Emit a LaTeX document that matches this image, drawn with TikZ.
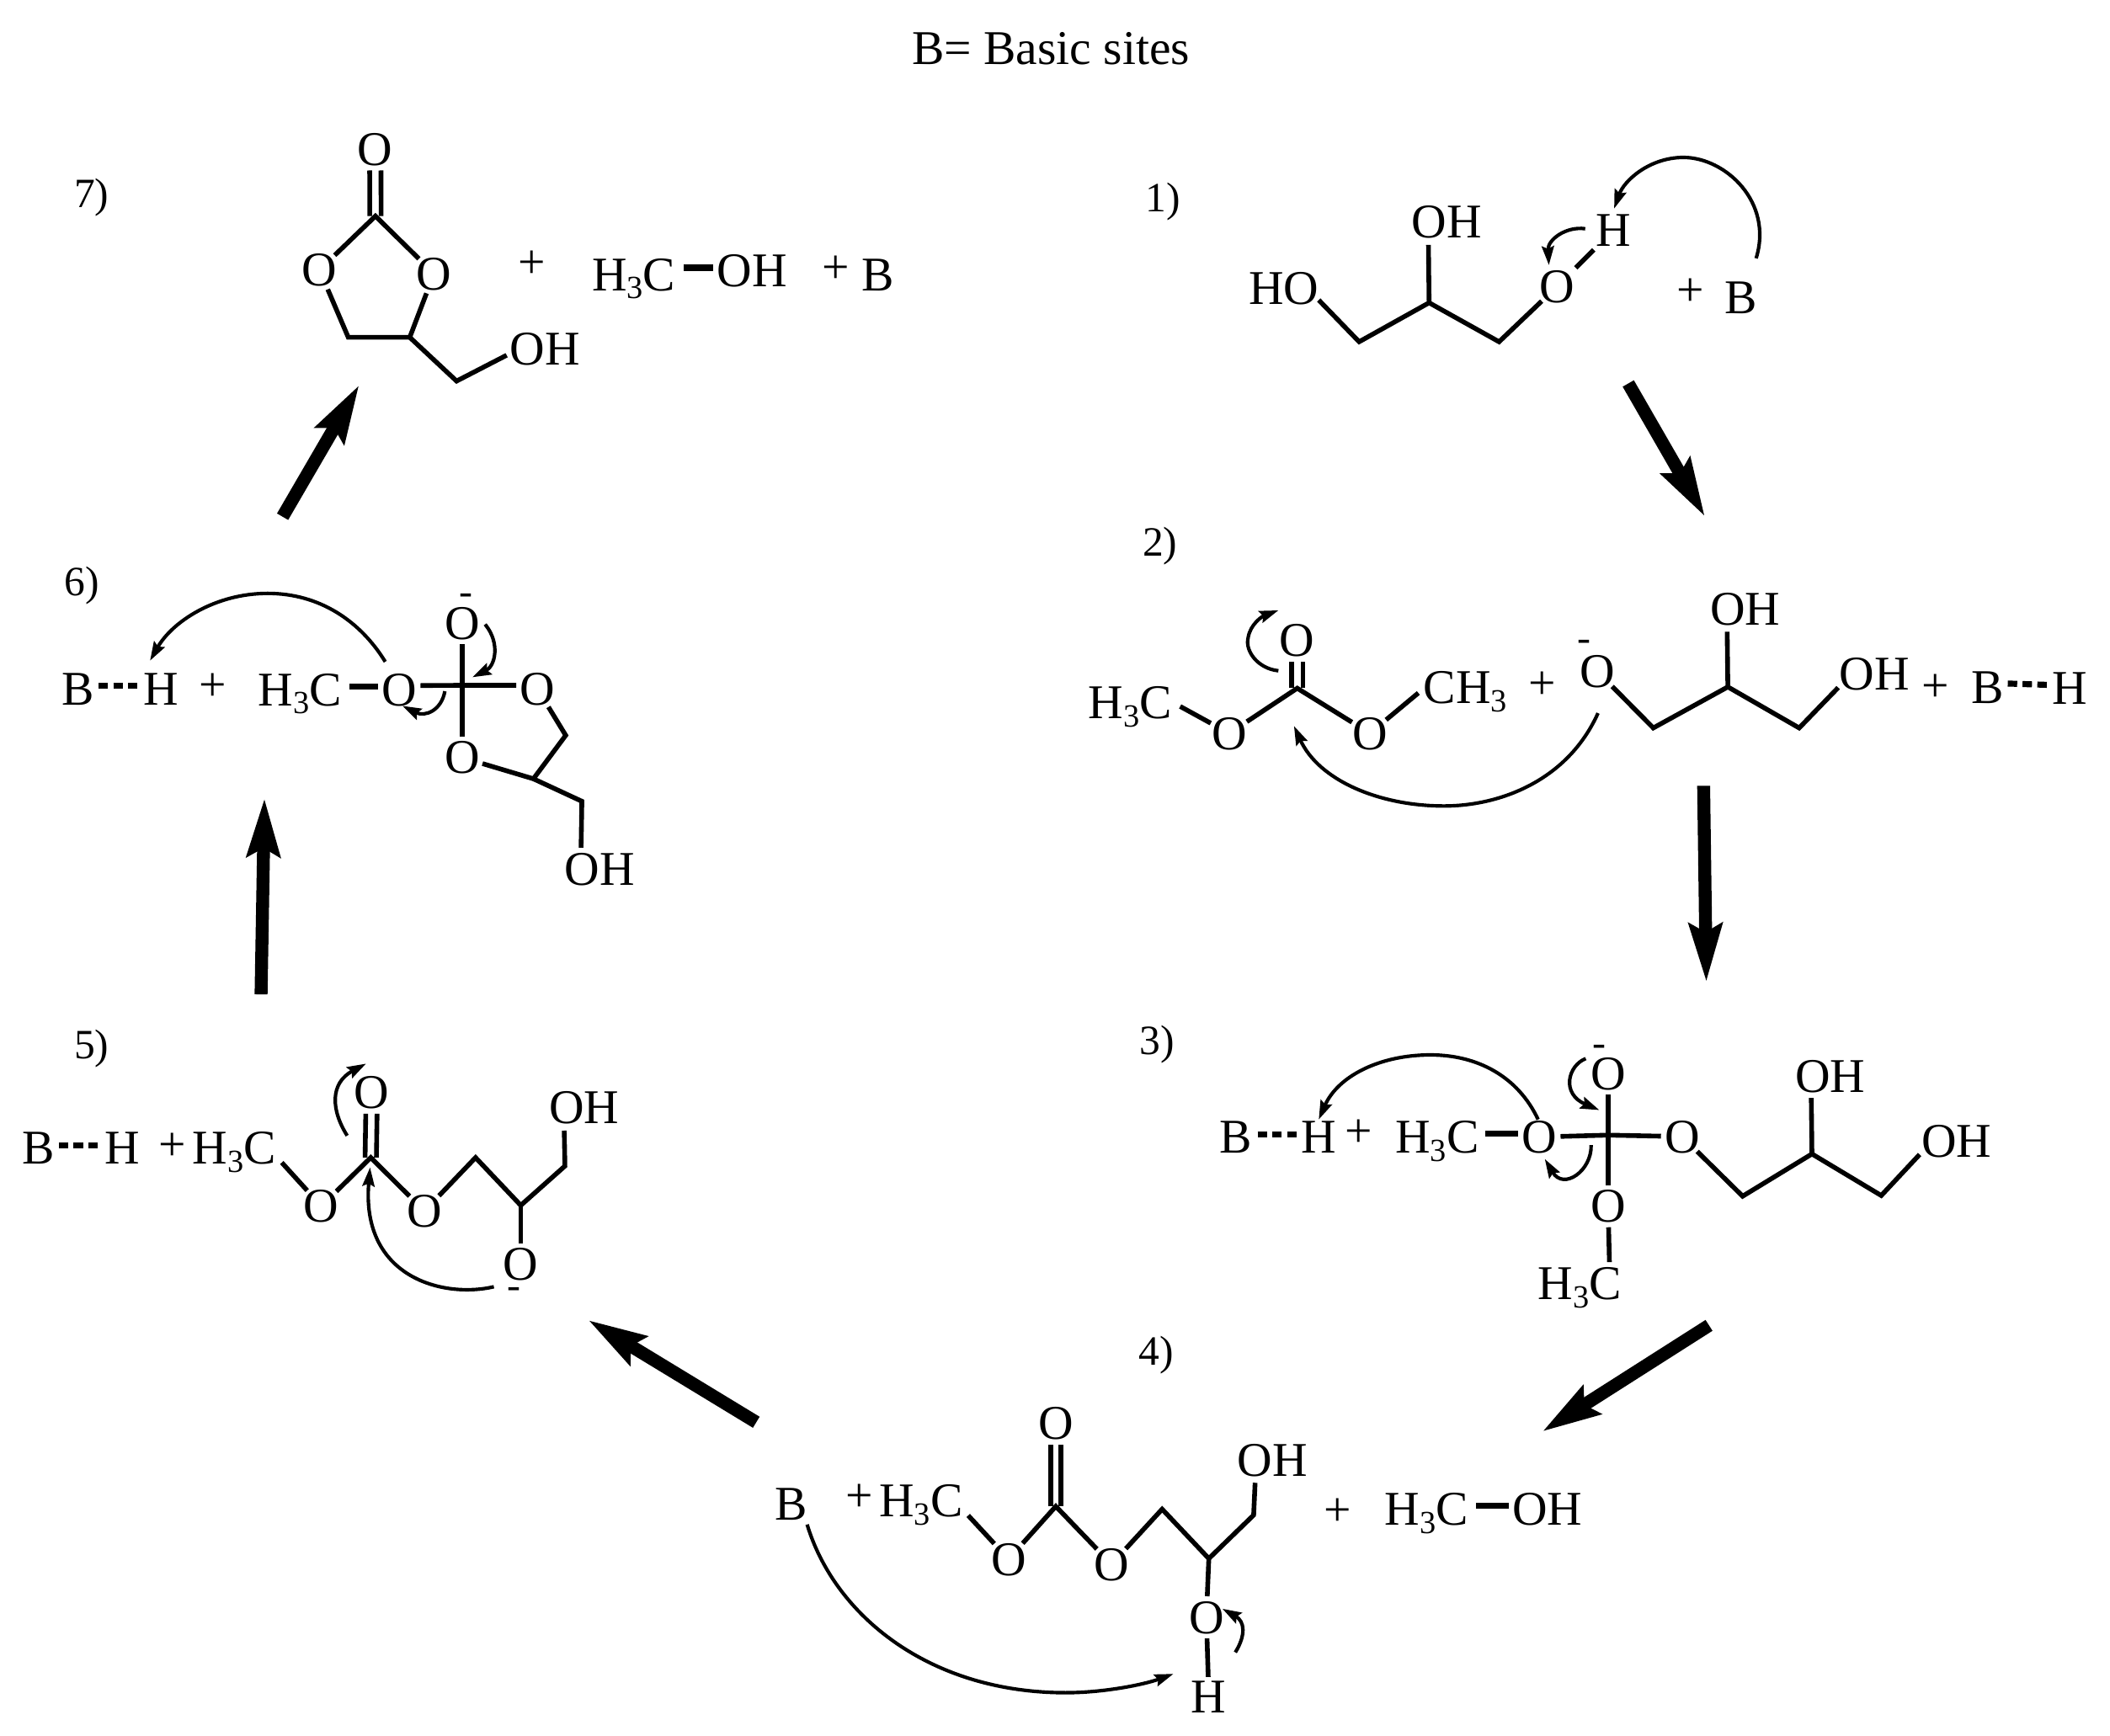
\documentclass[tikz,border=0pt]{standalone}
\usepackage{fontspec}
\setmainfont{Liberation Serif}
\usetikzlibrary{arrows.meta}
\newcommand{\atomsize}{\fontsize{36}{36}\selectfont}
\newcommand{\stepsize}{\fontsize{31}{31}\selectfont}
\newcommand{\chgsize}{\fontsize{30}{30}\selectfont}
\newcommand{\Hthree}{H\raisebox{-6pt}{\fontsize{24}{24}\selectfont 3}}
\tikzset{
 lab/.style={inner sep=0pt,outer sep=0pt,text height=24pt,text depth=0pt,font=\atomsize},
 atom/.style={lab,circle,outer sep=-2pt},
 pls/.style={inner sep=0pt,outer sep=0pt,text height=23pt,text depth=0pt,font=\atomsize},
 steplab/.style={inner sep=0pt,outer sep=0pt,text height=19pt,text depth=0pt,font=\stepsize},
 chg/.style={inner sep=0pt,outer sep=0pt,font=\chgsize,yshift=-3pt},
 bond/.style={line width=3.5pt,line join=miter,black},
 shortbond/.style={line width=4.5pt,black},
 hbond/.style={line width=4.5pt,dash pattern=on 7pt off 4pt,black},
 thick arrow/.style={line width=9.6pt,black,-{Stealth[length=43pt,width=24pt,inset=6pt]}},
 curve/.style={line width=2.6pt,black,-{Stealth[length=14pt,width=9pt,inset=2pt]}},
}
\begin{document}
\begin{tikzpicture}[x=1pt,y=-1pt]
\useasboundingbox (0,0) rectangle (1568,1290);
\fill[white] (0,0) rectangle (1568,1290);
% title and step labels
\node[lab] (title) at (781,36) {B= Basic sites};
\node[steplab] (s1) at (864,148) {1)};
\node[steplab] (s2) at (862,404) {2)};
\node[steplab] (s3) at (860,774) {3)};
\node[steplab] (s4) at (859,1005) {4)};
\node[steplab] (s5) at (68,777) {5)};
\node[steplab] (s6) at (61,433) {6)};
\node[steplab] (s7) at (68,145) {7)};

% ---------- step 1
\node[lab] (ho1) at (954,214) {HO};
\node[lab] (oh1) at (1075,165) {OH};
\node[atom] (o1) at (1157,213) {O};
\node[lab,circle] (h1) at (1199,171) {H};
\node[pls] (p1) at (1256,216) {+};
\node[lab] (b1) at (1294,221) {B};
\coordinate (v1a) at (1010,254);
\coordinate (v1b) at (1062,225);
\coordinate (v1c) at (1114,254);
\draw[bond] ([shift={(0,9)}]ho1.east) -- (v1a) -- (v1b) -- (v1c) -- (o1);
\draw[bond] (v1b) -- ([shift={(12.5,5)}]oh1.south west);
\draw[bond,shorten <=4pt,shorten >=3pt] (o1) -- (h1);
\coordinate (c1a) at (1305,192);
\coordinate (c1b) at (1199.5,155);
\draw[curve] (c1a) .. controls (1318,150) and (1282,117) .. (1251,117) .. controls (1226,117) and (1207,134) .. (c1b);
\coordinate (c1c) at (1178,170);
\coordinate (c1d) at (1151,197);
\draw[curve] (c1c) .. controls (1164,168) and (1150,178) .. (c1d);

% ---------- step 2
\node[lab] (h3c2) at (840,522) {\Hthree C};
\node[atom] (o2a) at (913.5,545) {O};
\node[atom] (o2t) at (964,476) {O};
\node[atom] (o2b) at (1018,545) {O};
\node[lab] (ch32) at (1089,511) {CH\raisebox{-6pt}{\fontsize{24}{24}\selectfont 3}};
\node[pls] (p2a) at (1146,508) {+};
\node[atom] (o2m) at (1187,499) {O};
\node[chg] (m2) at (1177,477) {-};
\node[lab] (oh2t) at (1297,452.5) {OH};
\node[lab] (oh2r) at (1393,501) {OH};
\node[pls] (p2b) at (1438,510) {+};
\node[lab] (b2) at (1477,510.5) {B};
\node[lab] (h2) at (1538,511.5) {H};
\coordinate (v2c) at (964,511.5);
\coordinate (v2a) at (1228.6,541);
\coordinate (v2b) at (1284,510.5);
\coordinate (v2d) at (1337,541);
\draw[bond] ([shift={(6,3)}]h3c2.east) -- (o2a);
\draw[bond] (o2a) -- (v2c) -- (o2b);
\draw[bond] (o2b) -- ([shift={(-4,4)}]ch32.west);
\draw[bond] ([xshift=-4.2pt]v2c) -- ([xshift=-4.2pt]o2t.south);
\draw[bond] ([xshift=4.2pt]v2c) -- ([xshift=4.2pt]o2t.south);
\draw[bond] (o2m) -- (v2a) -- (v2b) -- (v2d) -- ([shift={(-1,10)}]oh2r.west);
\draw[bond] (v2b) -- ([shift={(12.5,5)}]oh2t.south west);
\draw[hbond] ([shift={(3,-2.5)}]b2.east) -- ([shift={(-3,-2.5)}]h2.west);
\coordinate (c2a) at (950,498.5);
\coordinate (c2b) at (950,453.6);
\draw[curve] (c2a) .. controls (935,497) and (925,484) .. (927.5,474) .. controls (929,464) and (938,458) .. (c2b);
\coordinate (c2c) at (1187.5,530);
\coordinate (c2d) at (961.6,539.6);
\draw[curve] (c2c) .. controls (1165,580) and (1115,599) .. (1073,599) .. controls (1025,599) and (980,580) .. (c2d);

% ---------- step 3
\node[lab] (b3) at (918.5,845) {B};
\node[lab] (h3) at (980,845) {H};
\node[pls] (p3) at (1010,841) {+};
\node[lab] (h3c3) at (1068,845) {\Hthree C};
\node[atom] (o3l) at (1144,845) {O};
\node[atom] (o3t) at (1195,798) {O};
\node[chg] (m3) at (1188.5,778) {-};
\node[atom] (o3r) at (1250,844.7) {O};
\node[atom] (o3b) at (1195,896.4) {O};
\node[lab] (h3c3b) at (1174,954) {\Hthree C};
\node[lab] (oh3t) at (1360,800) {OH};
\node[lab] (oh3r) at (1454,848) {OH};
\coordinate (v3c) at (1195,843.6);
\coordinate (v3a) at (1295,889);
\coordinate (v3b) at (1346.5,857.6);
\coordinate (v3d) at (1398,888.5);
\draw[hbond] ([shift={(4,-2)}]b3.east) -- ([shift={(-3,-2)}]h3.west);
\draw[shortbond] ([shift={(5,-2.4)}]h3c3.east) -- ([yshift=2.4pt]o3l.west);
\draw[bond] (o3l) -- (v3c) -- (o3r);
\draw[bond] (o3t) -- (o3b);
\draw[bond] (o3b) -- ([shift={(-9,-4)}]h3c3b.north east);
\draw[bond] (o3r) -- (v3a) -- (v3b) -- (v3d) -- ([shift={(-1.5,-2)}]oh3r.south west);
\draw[bond] (v3b) -- ([shift={(12,4)}]oh3t.south west);
\coordinate (c3a) at (1143,832);
\coordinate (c3b) at (980,832);
\draw[curve] (c3a) .. controls (1128,800) and (1098,784) .. (1063,784) .. controls (1025,784) and (994,800) .. (c3b);
\coordinate (c3c) at (1178.4,786.7);
\coordinate (c3d) at (1188.5,825);
\draw[curve] (c3c) .. controls (1165,792) and (1160,813) .. (c3d);
\coordinate (c3e) at (1182.4,851);
\coordinate (c3f) at (1148,861.4);
\draw[curve] (c3e) .. controls (1183,870) and (1162,885) .. (c3f);

% ---------- step 4
\node[lab] (b4) at (588,1117.4) {B};
\node[pls] (p4a) at (638.4,1112) {+};
\node[lab] (h3c4) at (684.5,1115.3) {\Hthree C};
\node[atom] (o4a) at (749.5,1158.7) {O};
\node[atom] (o4t) at (784.6,1057.7) {O};
\node[atom] (o4b) at (826,1162.5) {O};
\node[lab] (oh4) at (945.7,1085) {OH};
\node[atom] (o4c) at (896.5,1202) {O};
\node[lab,circle,outer sep=-3pt] (h4) at (898.3,1261) {H};
\node[pls] (p4b) at (994,1122.7) {+};
\node[lab] (h3c4r) at (1060,1121.6) {\Hthree C};
\node[lab] (oh4r) at (1150,1121.6) {OH};
\coordinate (v4c) at (784.6,1119.5);
\coordinate (v4a) at (863.6,1121.6);
\coordinate (v4b) at (898.3,1158.3);
\coordinate (v4d) at (931.6,1126);
\draw[bond] ([shift={(4,11)}]h3c4.east) -- (o4a);
\draw[bond] (o4a) -- (v4c) -- (o4b);
\draw[bond] ([xshift=-3.7pt]v4c) -- ([xshift=-3.7pt]o4t.south);
\draw[bond] ([xshift=3.7pt]v4c) -- ([xshift=3.7pt]o4t.south);
\draw[bond] (o4b) -- (v4a) -- (v4b) -- (v4d) -- ([shift={(13,5)}]oh4.south west);
\draw[bond] (v4b) -- (o4c);
\draw[bond] (o4c) -- (h4);
\draw[shortbond] ([shift={(6,-2.6)}]h3c4r.east) -- ([shift={(-3,-2.6)}]oh4r.west);
\coordinate (c4a) at (599.8,1133);
\coordinate (c4b) at (872,1244);
\draw[curve] (c4a) .. controls (620,1200) and (690,1258) .. (792,1258) .. controls (820,1258) and (850,1252) .. (c4b);
\coordinate (c4c) at (918,1228);
\coordinate (c4d) at (908.4,1195.6);
\draw[curve] (c4c) .. controls (926,1215) and (925,1205) .. (c4d);

% ---------- step 5
\node[lab] (b5) at (28.7,853) {B};
\node[lab] (h5) at (91,853) {H};
\node[pls] (p5) at (128,851) {+};
\node[lab] (h3c5) at (174,853) {\Hthree C};
\node[atom] (o5a) at (238.8,896.4) {O};
\node[atom] (o5t) at (276,812) {O};
\node[atom] (o5b) at (315.4,900) {O};
\node[lab] (oh5) at (434,822.8) {OH};
\node[atom] (o5c) at (387,939.6) {O};
\node[chg] (m5) at (382,958) {-};
\coordinate (v5c) at (275.5,860.3);
\coordinate (v5a) at (353.4,860.3);
\coordinate (v5b) at (387,895.8);
\coordinate (v5d) at (419.8,866.6);
\draw[hbond] ([shift={(3,-1.5)}]b5.east) -- ([shift={(-3,-1.5)}]h5.west);
\draw[bond] ([shift={(4.4,11)}]h3c5.east) -- (o5a);
\draw[bond] (o5a) -- (v5c) -- (o5b);
\draw[bond] ([xshift=-4.2pt]v5c) -- ([xshift=-4.2pt]o5t.south);
\draw[bond] ([xshift=4.2pt]v5c) -- ([xshift=4.2pt]o5t.south);
\draw[bond] (o5b) -- (v5a) -- (v5b) -- (v5d) -- ([shift={(11.3,5.5)}]oh5.south west);
\draw[bond] (v5b) -- (o5c);
\coordinate (c5a) at (367,956.3);
\coordinate (c5b) at (275,867.6);
\draw[curve] (c5a) .. controls (330,965) and (268,950) .. (c5b);
\coordinate (c5c) at (258,844);
\coordinate (c5d) at (272,790.5);
\draw[curve] (c5c) .. controls (246,825) and (245,805) .. (c5d);

% ---------- step 6
\node[lab] (b6) at (58.2,512) {B};
\node[lab] (h6) at (119.6,512) {H};
\node[pls] (p6) at (158,509.3) {+};
\node[lab] (h3c6) at (222.9,512.5) {\Hthree C};
\node[atom] (o6l) at (296.8,512.5) {O};
\node[atom] (o6t) at (343.5,463) {O};
\node[chg] (m6) at (346,442.6) {-};
\node[atom] (o6r) at (399.4,512) {O};
\node[atom] (o6b) at (343.5,563) {O};
\node[lab] (oh6) at (445.8,646) {OH};
\coordinate (v6c) at (343.5,509.3);
\coordinate (v6a) at (420.4,546.5);
\coordinate (v6b) at (396.4,578.8);
\coordinate (v6d) at (432.4,595.5);
\draw[hbond] ([shift={(3,-2.5)}]b6.east) -- ([shift={(-3,-2.5)}]h6.west);
\draw[shortbond] ([shift={(6,-2)}]h3c6.east) -- ([yshift=2pt]o6l.west);
\draw[bond] ([yshift=3pt]o6l.east) -- (v6c) -- ([yshift=2.7pt]o6r.west);
\draw[bond] (o6t) -- (o6b);
\draw[bond] (o6r) -- (v6a) -- (v6b) -- (o6b);
\draw[bond] (v6b) -- (v6d) -- ([shift={(12,-4)}]oh6.north west);
\coordinate (c6a) at (286.3,491.8);
\coordinate (c6b) at (111.5,491);
\draw[curve] (c6a) .. controls (268,462) and (238,441) .. (198.9,441) .. controls (160,441) and (128,462) .. (c6b);
\coordinate (c6c) at (360.5,464);
\coordinate (c6d) at (351,503.3);
\draw[curve] (c6c) .. controls (372,478) and (368,495) .. (c6d);
\coordinate (c6e) at (330.6,513.7);
\coordinate (c6f) at (299,524.6);
\draw[curve] (c6e) .. controls (328,528) and (316,533) .. (c6f);

% ---------- step 7
\node[atom] (o7t) at (278.9,111) {O};
\node[atom] (o7l) at (237.4,200.6) {O};
\node[atom] (o7r) at (322.5,203.3) {O};
\node[lab] (oh7) at (405,259) {OH};
\node[pls] (p7a) at (395,195.6) {+};
\node[lab] (h3c7) at (471,204) {\Hthree C};
\node[lab] (oh7r) at (559,201.2) {OH};
\node[pls] (p7b) at (621.3,199) {+};
\node[lab] (b7) at (652.3,204) {B};
\coordinate (v7c) at (279,160.6);
\coordinate (v7a) at (258.8,250.7);
\coordinate (v7b) at (304.5,250.7);
\coordinate (v7d) at (339.3,283.2);
\draw[bond] ([xshift=-4.2pt]v7c) -- ([xshift=-4.2pt]o7t.south);
\draw[bond] ([xshift=4.2pt]v7c) -- ([xshift=4.2pt]o7t.south);
\draw[bond] (o7l) -- (v7c) -- (o7r);
\draw[bond] (o7l) -- (v7a) -- (v7b) -- (o7r);
\draw[bond] (v7b) -- (v7d) -- ([shift={(-2.5,5)}]oh7.west);
\draw[shortbond] ([shift={(6,-5)}]h3c7.east) -- ([shift={(-3,-2.2)}]oh7r.west);

% ---------- cycle arrows
\coordinate (a1s) at (1210,285);
\coordinate (a1e) at (1267,384);
\coordinate (a2s) at (1266,584);
\coordinate (a2e) at (1268,730);
\coordinate (a3s) at (1270,985);
\coordinate (a3e) at (1146,1064);
\coordinate (a4s) at (562,1057);
\coordinate (a4e) at (437,981);
\coordinate (a5s) at (194,739);
\coordinate (a5e) at (196.5,593);
\coordinate (a6s) at (210,384);
\coordinate (a6e) at (267,286);
\draw[thick arrow] (a1s) -- (a1e);
\draw[thick arrow] (a2s) -- (a2e);
\draw[thick arrow] (a3s) -- (a3e);
\draw[thick arrow] (a4s) -- (a4e);
\draw[thick arrow] (a5s) -- (a5e);
\draw[thick arrow] (a6s) -- (a6e);
\end{tikzpicture}
\end{document}
